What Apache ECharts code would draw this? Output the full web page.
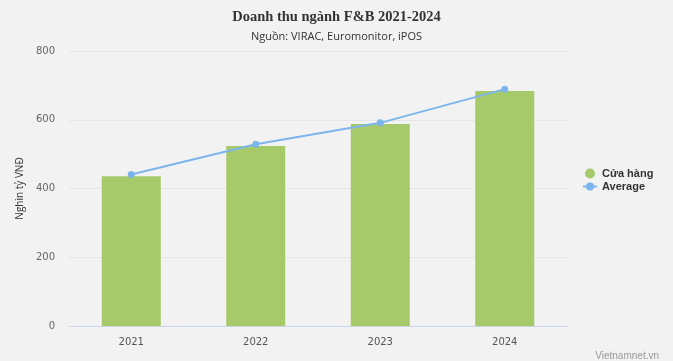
<!DOCTYPE html>
<html><head><meta charset="utf-8">
<script src="https://cdn.jsdelivr.net/npm/echarts@6/dist/echarts.min.js"></script>
<style>html,body{margin:0;padding:0;background:#f2f2f2}#c{width:673px;height:361px}</style>
</head><body><div id="c"></div>
<script>
const categories = ['2021','2022','2023','2024'];
const storeValues = [436, 524, 588, 684];
const averageValues = [441, 529, 591, 689];
const yTicks = [0, 200, 400, 600, 800];

const chart = echarts.init(document.getElementById('c'));
chart.setOption({
  backgroundColor: '#f2f2f2',
  animation: false,
  title: [
    {text: 'Doanh thu ngành F&B 2021-2024', left: 'center', top: 5,
     textStyle: {fontFamily: 'Liberation Serif', fontWeight: 'bold', fontSize: 14.5, color: '#333'}},
    {text: 'Nguồn: VIRAC, Euromonitor, iPOS', left: 'center', top: 26,
     textStyle: {fontFamily: 'Open Sans', fontWeight: 'normal', fontSize: 11, color: '#333'}},
    {text: 'Vietnamnet.vn', right: 9, top: 346,
     textStyle: {fontFamily: 'Liberation Sans', fontWeight: 'normal', fontSize: 10, color: '#999'}}
  ],
  legend: {
    orient: 'vertical', left: 577, top: 163, itemGap: 2,
    itemWidth: 14, itemHeight: 10,
    textStyle: {fontFamily: 'Liberation Sans', fontWeight: 'bold', fontSize: 11, color: '#333'},
    data: [{name: 'Cửa hàng', icon: 'circle'}, {name: 'Average'}]
  },
  grid: {left: 69, right: 106, top: 51, bottom: 35},
  xAxis: {
    type: 'category', data: categories,
    axisLine: {lineStyle: {color: '#ccd6eb'}},
    axisTick: {show: false},
    axisLabel: {color: '#555', fontFamily: 'DejaVu Sans', fontSize: 10, margin: 11}
  },
  yAxis: {
    type: 'value', min: 0, max: 800, interval: 200,
    name: 'Nghìn tỷ VNĐ', nameLocation: 'middle', nameGap: 35,
    nameTextStyle: {fontFamily: 'Open Sans', fontSize: 10, color: '#333'},
    axisLabel: {color: '#666', fontFamily: 'DejaVu Sans', fontSize: 10, margin: 14,
      formatter: v => yTicks.includes(v) ? String(v) : ''},
    splitLine: {lineStyle: {color: '#e6e6e6'}},
    axisLine: {show: false}, axisTick: {show: false}
  },
  series: [
    {name: 'Cửa hàng', type: 'bar', data: storeValues, barWidth: 59,
     itemStyle: {color: '#a6c96a'}},
    {name: 'Average', type: 'line', data: averageValues, symbol: 'circle', symbolSize: 7,
     lineStyle: {color: '#7cb5ec', width: 2}, itemStyle: {color: '#7cb5ec'}}
  ]
});
</script></body></html>
